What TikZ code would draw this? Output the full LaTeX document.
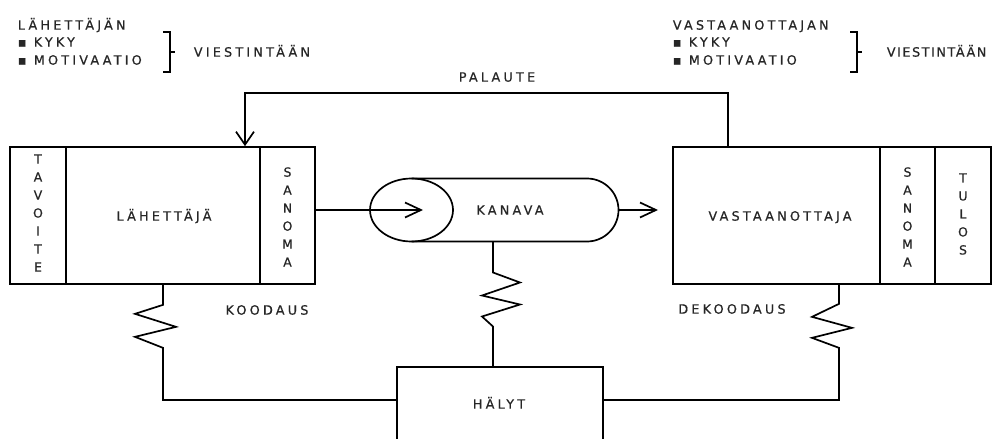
\documentclass[tikz,border=0pt]{standalone}
\usepackage{fontspec}
\setmainfont[FakeBold=0.6]{DejaVu Sans}
\newfontfamily\lblfont[LetterSpace=25,FakeBold=0.6]{DejaVu Sans}
\newfontfamily\tightfont[LetterSpace=12,FakeBold=0.6]{DejaVu Sans}
\usetikzlibrary{arrows.meta}

\begin{document}
\begin{tikzpicture}[x=1pt,y=-1pt,
  line width=1.7pt,
  blk/.style={draw, rectangle, inner sep=0pt, minimum height=137pt},
  txt/.style={font=\lblfont\fontsize{12.8}{14}\selectfont, inner sep=0pt,
              text height=9.3pt, text depth=0pt, text=black!85},
  tighttxt/.style={txt, font=\tightfont\fontsize{12.8}{14}\selectfont},
  vtxt/.style={font=\fontsize{12.5}{18}\selectfont, align=center, inner sep=0pt, text=black!85},
  barb/.style={-{Straight Barb[length=16pt,width=15pt,line width=1.7pt]}},
  fbarb/.style={-{Straight Barb[length=13pt,width=18pt,line width=1.7pt]}},
  brace/.style={line width=1.3pt}
]
\useasboundingbox (0,0) rectangle (1002,439);
\clip (0,0) rectangle (1002,439);

% sender side
\node[blk, minimum width=56pt]  (tav)   at (38,215.5)  {};
\node[blk, minimum width=194pt] (send)  at (163,215.5) {};
\node[blk, minimum width=55pt]  (sano1) at (287.5,215.5) {};
\node[vtxt] (tavt)   at (38,213)   {T\\A\\V\\O\\I\\T\\E};
\node[txt]  (sendt)  at (164,216) {LÄHETTÄJÄ};
\node[vtxt] (sano1t) at (287.5,217) {S\\A\\N\\O\\M\\A};

% receiver side
\node[blk, minimum width=207pt] (recv)  at (776.5,215.5) {};
\node[blk, minimum width=55pt]  (sano2) at (907.5,215.5) {};
\node[blk, minimum width=56pt]  (tulos) at (963,215.5) {};
\node[txt]  (recvt)  at (780,216) {VASTAANOTTAJA};
\node[vtxt] (sano2t) at (907.5,217) {S\\A\\N\\O\\M\\A};
\node[vtxt] (tulost) at (963,214) {T\\U\\L\\O\\S};

% channel
\coordinate (kc) at (411.5,210);
\draw (411.5,178.5) -- (587,178.5) arc[start angle=90, end angle=-90, radius=31.5pt] -- (411.5,241.5);
\draw (kc) ellipse [x radius=41.5pt, y radius=31.5pt];
\node[txt] (kanava) at (510,210) {KANAVA};
\coordinate (kin)  at (423,210);
\coordinate (kout) at (618.5,210);
\coordinate (rin)  at (658,210);
\draw[barb] (sano1.east |- kc) -- (kin);
\draw[barb] (kout) -- (rin);

% noise
\node[draw, rectangle, inner sep=0pt, minimum width=206pt, minimum height=76pt] (halyt) at (500,405) {};
\node[txt] (halytt) at (499,404) {HÄLYT};

\coordinate (kb) at (493,241.5);
\draw (kb) -- ++(0,31) -- ++(27,10) -- ++(-38,13) -- ++(38,9) -- ++(-38,12) -- ++(11,10)
      -- (kb |- halyt.north);

\draw (send.south) -- ++(0,20) -- ++(-28,9) -- ++(41,13) -- ++(-41,10) -- ++(28,11)
      |- ([yshift=5pt]halyt.west);

\coordinate (dkx) at (839,0);
\draw (recv.south -| dkx) -- ++(0,19) -- ++(-27,13) -- ++(40,11) -- ++(-40,10) -- ++(27,10)
      |- ([yshift=5pt]halyt.east);

\node[txt] (kood)   at (267,310) {KOODAUS};
\node[txt] (dekood) at (732,309) {DEKOODAUS};

% feedback
\coordinate (fbr) at (728,93);
\coordinate (fbl) at (245,93);
\draw[fbarb] (recv.north -| fbr) -- (fbr) -- (fbl) -- (send.north -| fbl);
\node[txt] (palaute) at (497,77) {PALAUTE};

% sender abilities
\node[txt, anchor=west] (lah)  at (17,25) {LÄHETTÄJÄN};
\node[txt, anchor=west] (lah1) at (17,42) {▪ KYKY};
\node[txt, anchor=west] (lah2) at (17,60) {▪ MOTIVAATIO};
\draw[brace] (163,32) -- (170,32) -- (170,72) -- (163,72);
\draw[brace] (170,52) -- (175,52);
\node[txt, anchor=west] (vl) at (193,52) {VIESTINTÄÄN};

% receiver abilities
\node[txt, anchor=west] (vas)  at (672,25) {VASTAANOTTAJAN};
\node[txt, anchor=west] (vas1) at (672,42) {▪ KYKY};
\node[txt, anchor=west] (vas2) at (672,60) {▪ MOTIVAATIO};
\draw[brace] (850,32) -- (857,32) -- (857,72) -- (850,72);
\draw[brace] (857,52) -- (862,52);
\node[tighttxt, anchor=west] (vr) at (886,52) {VIESTINTÄÄN};
\end{tikzpicture}
\end{document}
